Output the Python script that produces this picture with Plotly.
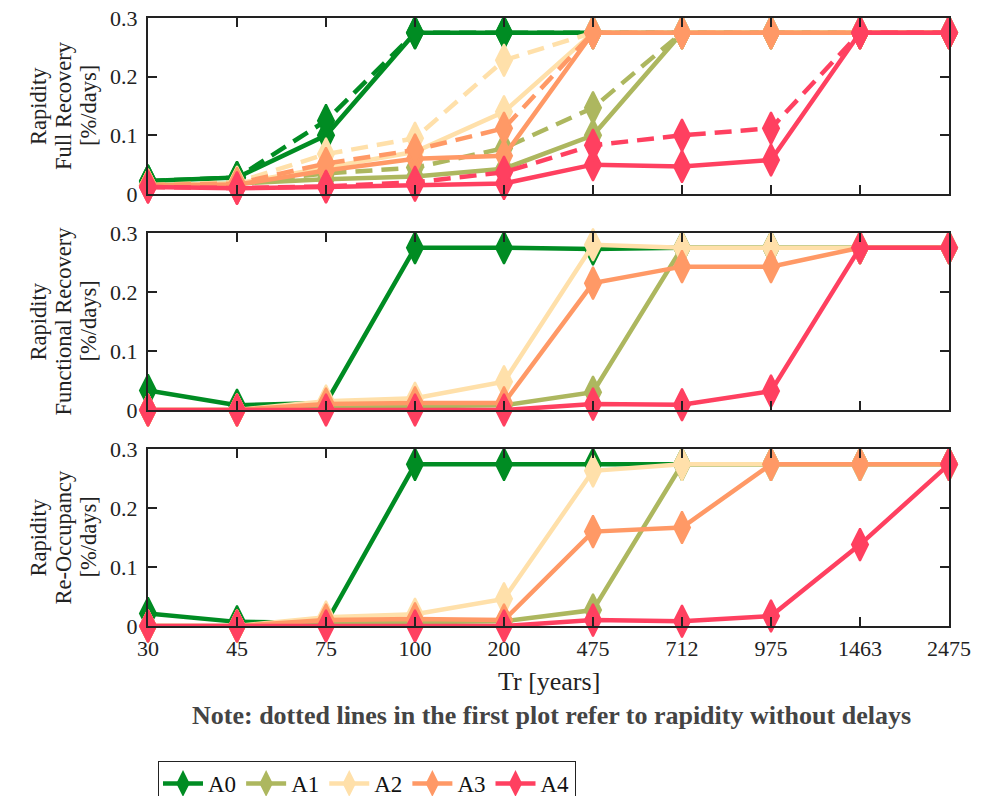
import plotly.graph_objects as go

categories = ["30", "45", "75", "100", "200", "475", "712", "975", "1463", "2475"]
series_names = ["A0", "A1", "A2", "A3", "A4"]
colors = ["#008C23", "#ADB75F", "#FFE0AA", "#FF9966", "#FF4060"]

# Top panel: Full Recovery (solid = with delays, dashed = without delays)
full_solid_A0 = [0.022, 0.028, 0.100, 0.275, 0.275, 0.275, 0.275, 0.275, 0.275, 0.275]
full_solid_A1 = [0.015, 0.018, 0.025, 0.030, 0.043, 0.100, 0.275, 0.275, 0.275, 0.275]
full_solid_A2 = [0.015, 0.018, 0.045, 0.072, 0.140, 0.275, 0.275, 0.275, 0.275, 0.275]
full_solid_A3 = [0.015, 0.016, 0.040, 0.060, 0.065, 0.275, 0.275, 0.275, 0.275, 0.275]
full_solid_A4 = [0.012, 0.010, 0.012, 0.015, 0.018, 0.050, 0.047, 0.058, 0.275, 0.275]

full_dash_A0 = [0.022, 0.028, 0.125, 0.275, 0.275, 0.275, 0.275, 0.275, 0.275, 0.275]
full_dash_A1 = [0.015, 0.020, 0.035, 0.045, 0.078, 0.147, 0.275, 0.275, 0.275, 0.275]
full_dash_A2 = [0.015, 0.020, 0.068, 0.095, 0.228, 0.275, 0.275, 0.275, 0.275, 0.275]
full_dash_A3 = [0.015, 0.018, 0.052, 0.075, 0.112, 0.275, 0.275, 0.275, 0.275, 0.275]
full_dash_A4 = [0.012, 0.010, 0.013, 0.020, 0.037, 0.083, 0.100, 0.112, 0.275, 0.275]

# Middle panel: Functional Recovery
func_A0 = [0.033, 0.008, 0.012, 0.275, 0.275, 0.273, 0.275, 0.275, 0.275, 0.275]
func_A1 = [0.000, 0.000, 0.005, 0.007, 0.008, 0.030, 0.275, 0.275, 0.275, 0.275]
func_A2 = [0.000, 0.000, 0.015, 0.020, 0.048, 0.280, 0.275, 0.275, 0.275, 0.275]
func_A3 = [0.000, 0.000, 0.010, 0.012, 0.012, 0.215, 0.243, 0.243, 0.275, 0.275]
func_A4 = [0.000, 0.000, 0.000, 0.000, 0.000, 0.010, 0.009, 0.032, 0.275, 0.275]

# Bottom panel: Re-Occupancy
reocc_A0 = [0.021, 0.007, 0.005, 0.274, 0.274, 0.274, 0.274, 0.274, 0.274, 0.274]
reocc_A1 = [0.000, 0.000, 0.005, 0.007, 0.008, 0.027, 0.274, 0.274, 0.274, 0.274]
reocc_A2 = [0.000, 0.000, 0.015, 0.020, 0.046, 0.263, 0.274, 0.274, 0.274, 0.274]
reocc_A3 = [0.000, 0.000, 0.010, 0.012, 0.010, 0.160, 0.167, 0.274, 0.274, 0.274]
reocc_A4 = [0.000, 0.000, 0.000, 0.000, 0.000, 0.010, 0.008, 0.017, 0.138, 0.274]

y_tick_vals = [0, 0.1, 0.2, 0.3]
y_tick_text = ["0", "0.1", "0.2", "0.3"]
y_label_lines = [
    ["Rapidity", "Full Recovery", "[%/days]"],
    ["Rapidity", "Functional Recovery", "[%/days]"],
    ["Rapidity", "Re-Occupancy", "[%/days]"],
]
x_title = "Tr [years]"
note = "Note: dotted lines in the first plot refer to rapidity without delays"

full_solid = [full_solid_A0, full_solid_A1, full_solid_A2, full_solid_A3, full_solid_A4]
full_dash = [full_dash_A0, full_dash_A1, full_dash_A2, full_dash_A3, full_dash_A4]
func = [func_A0, func_A1, func_A2, func_A3, func_A4]
reocc = [reocc_A0, reocc_A1, reocc_A2, reocc_A3, reocc_A4]

FONT = "Liberation Serif"
TXT = "#222222"
fig = go.Figure()

def add(vals, name, color, xa, ya, dash="solid", show=False):
    fig.add_trace(go.Scatter(
        x=categories, y=vals, name=name, mode="lines+markers",
        line=dict(color=color, width=4.5, dash=dash),
        marker=dict(symbol="diamond-tall", size=23, color=color,
                    line=dict(color=color, width=2)),
        xaxis=xa, yaxis=ya, showlegend=show, legendgroup=name,
        cliponaxis=False,
    ))

for i, n in enumerate(series_names):
    add(full_solid[i], n, colors[i], "x", "y", show=True)
    add(full_dash[i], n, colors[i], "x", "y", dash="17px,9px")
for i, n in enumerate(series_names):
    add(func[i], n, colors[i], "x2", "y2")
for i, n in enumerate(series_names):
    add(reocc[i], n, colors[i], "x3", "y3")

H = 608.0
W = 801.0
doms = [
    [(626 - 194) / H, 1.0],
    [(626 - 410) / H, (626 - 233) / H],
    [0.0, (626 - 449) / H],
]

axis_common = dict(
    showline=True, linecolor=TXT, linewidth=2, mirror="allticks",
    ticks="inside", ticklen=9, tickwidth=2, tickcolor=TXT,
    showgrid=False, zeroline=False,
    tickfont=dict(family=FONT, size=22, color=TXT),
)

layout = dict(
    width=981, height=796,
    margin=dict(l=148, r=32, t=18, b=170, autoexpand=False),
    paper_bgcolor="white", plot_bgcolor="white",
    font=dict(family=FONT, size=22, color=TXT),
    showlegend=True,
    legend=dict(
        orientation="h", x=10 / W, y=(626 - 761) / H, xanchor="left", yanchor="top",
        bordercolor=TXT, borderwidth=1, font=dict(family=FONT, size=23, color="#111111"),
        bgcolor="white", itemwidth=40, tracegroupgap=0,
    ),
)

for k in range(3):
    suf = "" if k == 0 else str(k + 1)
    layout["xaxis" + suf] = dict(
        axis_common, type="category", categoryorder="array", categoryarray=categories,
        range=[0, 9], domain=[0, 1], anchor="y" + suf,
        showticklabels=(k == 2), ticklabelstandoff=2,
    )
    layout["yaxis" + suf] = dict(
        axis_common, range=[0, 0.3], domain=doms[k], anchor="x" + suf,
        tickvals=y_tick_vals, ticktext=y_tick_text, ticklabelstandoff=4,
    )

fig.update_layout(**layout)

annotations = []
line_x = [38, 63, 88]
for k in range(3):
    d = doms[k]
    for j, txt in enumerate(y_label_lines[k]):
        annotations.append(dict(
            text=txt, xref="paper", yref="paper",
            x=-(148 - line_x[j]) / W, y=(d[0] + d[1]) / 2,
            xanchor="center", yanchor="middle", textangle=-90, showarrow=False,
            font=dict(family=FONT, size=22.5, color=TXT),
        ))
annotations.append(dict(
    text=x_title, xref="paper", yref="paper",
    x=0.5, y=(626 - 681) / H, xanchor="center", yanchor="middle", showarrow=False,
    font=dict(family=FONT, size=26, color=TXT),
))
annotations.append(dict(
    text="<b>" + note + "</b>", xref="paper", yref="paper",
    x=(551 - 148) / W, y=(626 - 715) / H, xanchor="center", yanchor="middle", showarrow=False,
    font=dict(family=FONT, size=26, color="#444444"),
))
fig.update_layout(annotations=annotations)

fig.write_html("out.html")
